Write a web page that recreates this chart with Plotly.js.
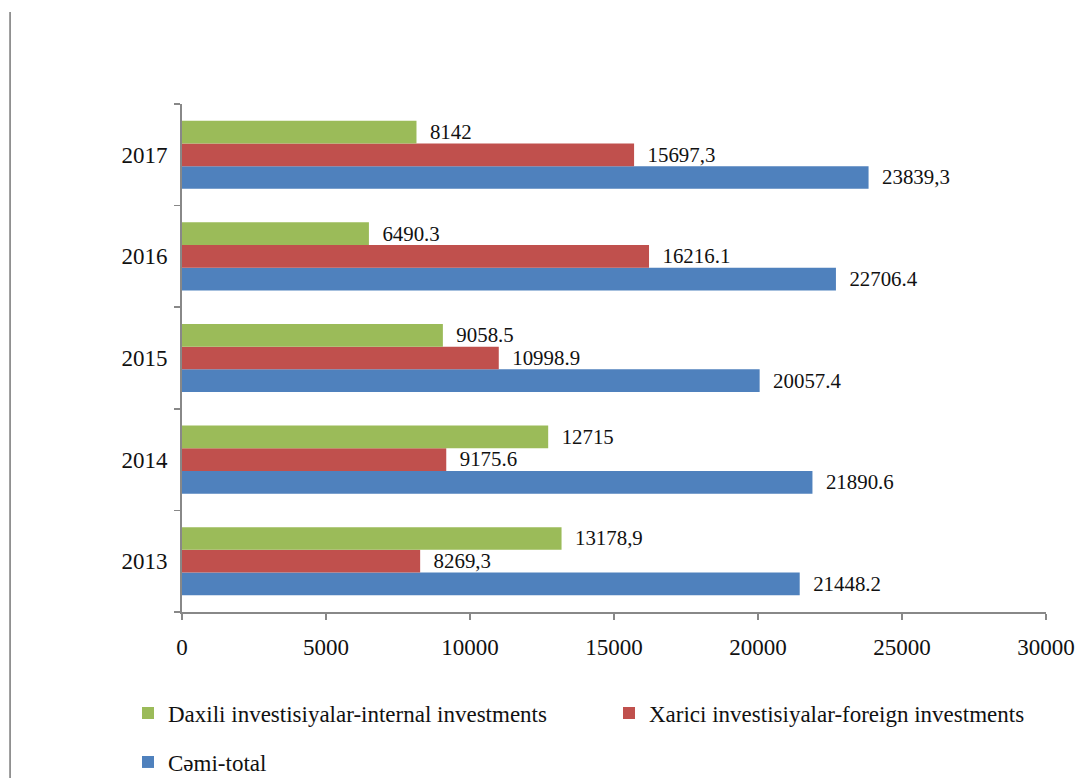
<!DOCTYPE html>
<html>
<head>
<meta charset="utf-8">
<script src="https://cdn.plot.ly/plotly-3.0.1.min.js"></script>
<style>html,body{margin:0;padding:0;background:#fff;}#chart{width:1079px;height:778px;}</style>
</head>
<body>
<div id="chart"></div>
<script>
const years = ['2013', '2014', '2015', '2016', '2017'];
const internalVals = [13178.9, 12715, 9058.5, 6490.3, 8142];
const internalLabels = ['13178,9', '12715', '9058.5', '6490.3', '8142'];
const foreignVals = [8269.3, 9175.6, 10998.9, 16216.1, 15697.3];
const foreignLabels = ['8269,3', '9175.6', '10998.9', '16216.1', '15697,3'];
const totalVals = [21448.2, 21890.6, 20057.4, 22706.4, 23839.3];
const totalLabels = ['21448.2', '21890.6', '20057.4', '22706.4', '23839,3'];
const names = ['Daxili investisiyalar-internal investments', 'Xarici investisiyalar-foreign investments', 'Cəmi-total'];
const xTicks = [0, 5000, 10000, 15000, 20000, 25000, 30000];

const serif = "'Liberation Serif', 'Times New Roman', serif";
const FS = 23;
function bar(vals, labels, name, color, legend) {
  return {
    type: 'bar', orientation: 'h', y: years, x: vals, name: name,
    text: labels, texttemplate: '\u00a0\u00a0%{text}', textposition: 'outside',
    cliponaxis: false, marker: {color: color},
    textfont: {family: serif, size: FS, color: '#111'},
    legend: legend, hoverinfo: 'x+name'
  };
}
const data = [
  bar(totalVals, totalLabels, names[2], '#4F81BD', 'legend2'),
  bar(foreignVals, foreignLabels, names[1], '#C0504D', 'legend3'),
  bar(internalVals, internalLabels, names[0], '#9BBB59', 'legend')
];
function leg(xpx, ypx) {
  return {
    orientation: 'h', xref: 'container', yref: 'container',
    x: (xpx - 15) / 1079, xanchor: 'left', y: 1 - ypx / 778, yanchor: 'middle',
    font: {family: serif, size: FS, color: '#111'}, itemclick: false
  };
}
const layout = {
  width: 1079, height: 778,
  margin: {l: 182, r: 33, t: 104, b: 166},
  paper_bgcolor: '#fff', plot_bgcolor: '#fff',
  barmode: 'group', bargap: 0.33, bargroupgap: 0,
  font: {family: serif, size: FS, color: '#111'},
  xaxis: {
    range: [0, 30000], tickvals: xTicks, ticktext: xTicks.map(String),
    showgrid: false, zeroline: false, showline: true, linecolor: '#888', linewidth: 2,
    ticks: 'outside', ticklen: 6, tickcolor: '#888', tickwidth: 1.5, ticklabelstandoff: 7,
    tickfont: {family: serif, size: FS, color: '#111'}, fixedrange: true, automargin: false
  },
  yaxis: {
    type: 'category', range: [-0.5, 4.5], showgrid: false, zeroline: false,
    showline: true, linecolor: '#888', linewidth: 2,
    ticks: 'outside', tickson: 'boundaries', ticklen: 6, tickcolor: '#888', tickwidth: 1.5,
    ticklabelstandoff: 8,
    tickfont: {family: serif, size: FS, color: '#111'}, fixedrange: true, automargin: false
  },
  legend: leg(143, 713),
  legend3: leg(624, 713),
  legend2: leg(143, 762),
  shapes: [{
    type: 'line', xref: 'paper', yref: 'paper',
    x0: -0.199, x1: -0.199, y0: 1.181, y1: -0.33,
    line: {color: '#777', width: 1.5}
  }],
  showlegend: true
};
Plotly.newPlot('chart', data, layout, {displayModeBar: false, staticPlot: true});
</script>
</body>
</html>
